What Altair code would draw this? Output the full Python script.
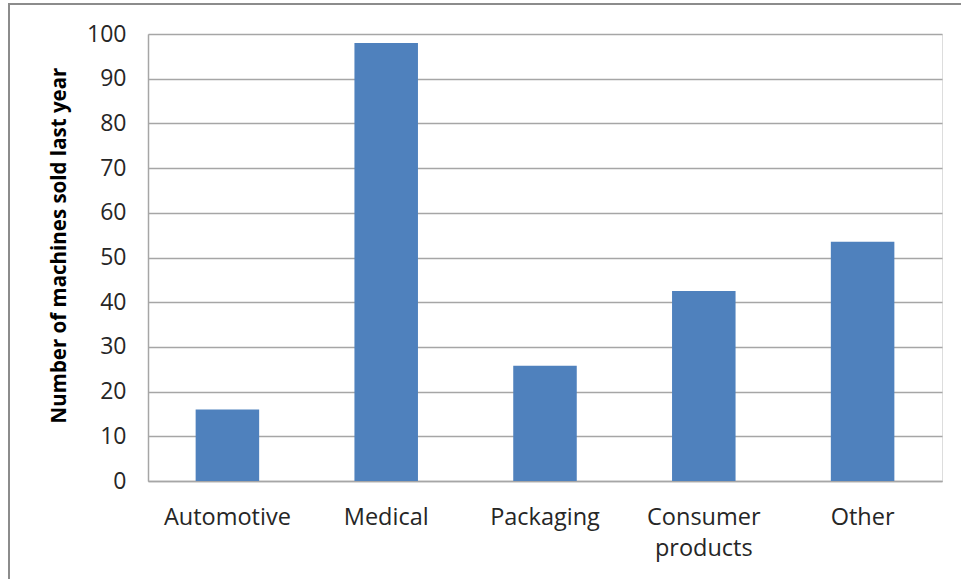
import altair as alt
import pandas as pd

categories = ["Automotive", "Medical", "Packaging", "Consumer products", "Other"]
values = [16, 98, 25.8, 42.5, 53.5]

df = pd.DataFrame({"category": categories, "value": values})

FONT = "Open Sans"
GRID = "#a6a6a6"

bars = alt.Chart(df).mark_bar(color="#4f81bd").encode(
    x=alt.X(
        "category:N",
        sort=categories,
        scale=alt.Scale(paddingInner=0.6, paddingOuter=0.3),
        axis=alt.Axis(
            title=None,
            labelAngle=0,
            labelFont=FONT,
            labelFontSize=23.5,
            labelColor="#262626",
            labelPadding=24,
            labelLineHeight=31,
            labelExpr="split(datum.label, ' ')",
            ticks=False,
            domainColor=GRID,
            domainWidth=1.5,
            grid=False,
        ),
    ),
    y=alt.Y(
        "value:Q",
        scale=alt.Scale(domain=[0, 100], nice=False),
        axis=alt.Axis(
            title="Number of machines sold last year",
            titleFont=FONT,
            titleFontSize=20.5,
            titleFontWeight="bold",
            titleColor="#000000",
            titleX=-79,
            titleY=211,
            values=list(range(0, 101, 10)),
            labelFont=FONT,
            labelFontSize=23,
            labelColor="#262626",
            labelPadding=22,
            ticks=False,
            domainColor=GRID,
            domainWidth=1.5,
            gridColor=GRID,
            gridWidth=1.5,
        ),
    ),
)

border_df = pd.DataFrame({"b": [0]})
border = alt.Chart(border_df).mark_rect(
    fill=None, stroke="#8c8c8c", strokeWidth=2
).encode(
    x=alt.value(-139),
    x2=alt.value(830),
    y=alt.value(-30),
    y2=alt.value(560),
)

chart = alt.layer(bars, border).properties(
    width=794,
    height=447,
    autosize=alt.AutoSizeParams(type="none"),
    padding={"left": 148, "top": 34, "right": 19, "bottom": 98},
).configure_view(stroke=None).configure(background="white")

chart.save("out.html", embed_options={"renderer": "svg", "actions": False})
